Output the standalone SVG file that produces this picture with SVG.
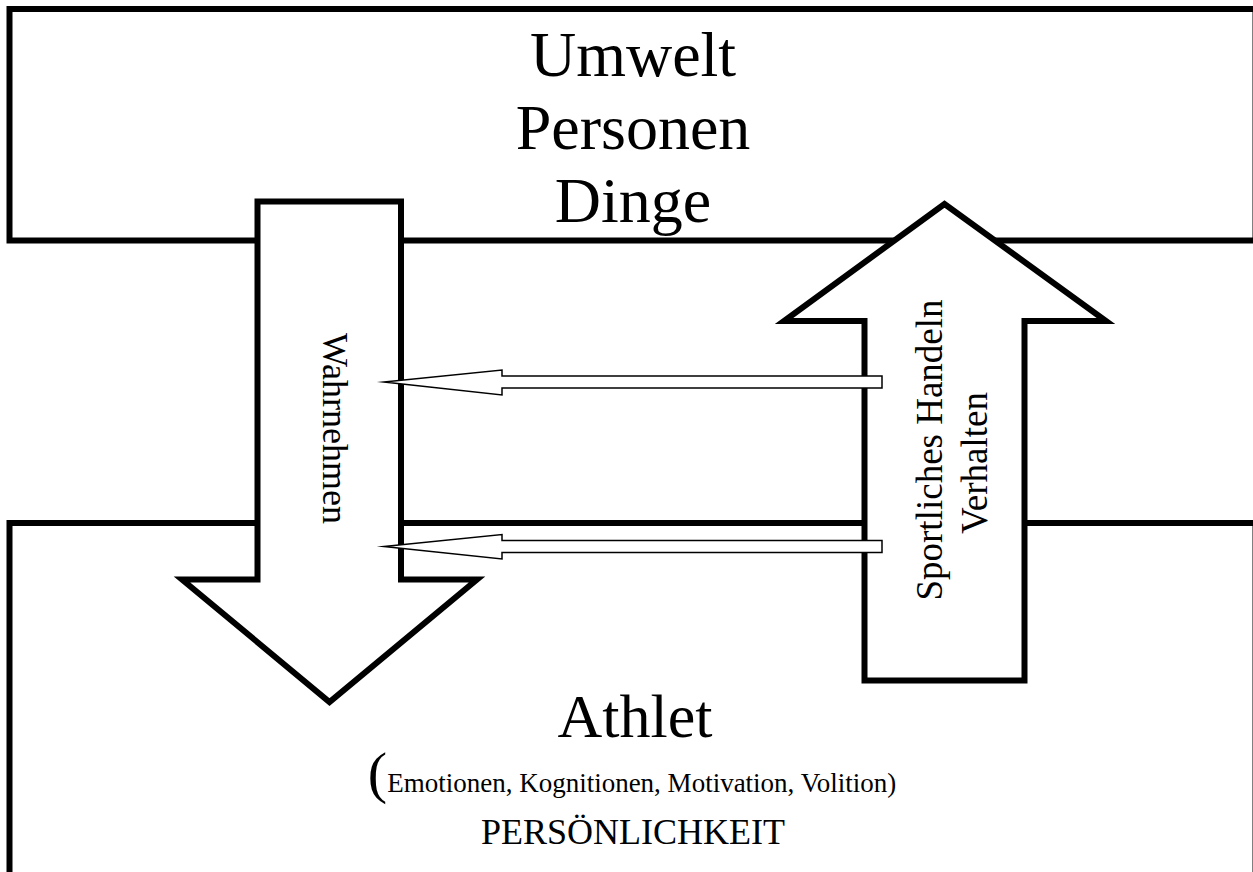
<svg xmlns="http://www.w3.org/2000/svg" width="1253" height="872" viewBox="0 0 1253 872">
<style>
.box{fill:#fff;stroke:#000;stroke-width:6;stroke-miterlimit:10}
.big{fill:#fff;stroke:#000;stroke-width:6;stroke-linejoin:miter;stroke-miterlimit:10}
.small{fill:#fff;stroke:#000;stroke-width:1.5;stroke-linejoin:miter;stroke-miterlimit:20}
text{font-family:"Liberation Serif","Times New Roman",serif;fill:#000}
</style>
<rect width="1253" height="872" fill="#fff"/>
<g id="umwelt">
<rect class="box" x="9.5" y="9" width="1246" height="231.5"/>
<text x="633" y="76" font-size="64" text-anchor="middle">Umwelt</text>
<text x="633" y="149" font-size="64" text-anchor="middle">Personen</text>
<text x="633" y="222" font-size="64" text-anchor="middle">Dinge</text>
</g>
<g id="athlet">
<rect class="box" x="9.5" y="523" width="1246" height="360"/>
<text x="635" y="737" font-size="62" text-anchor="middle">Athlet</text>
<text x="632" y="792" text-anchor="middle"><tspan font-size="58">(</tspan><tspan font-size="27">Emotionen, Kognitionen, Motivation, Volition)</tspan></text>
<text x="633" y="844" font-size="36" text-anchor="middle">PERSÖNLICHKEIT</text>
</g>
<g id="wahrnehmen">
<polygon class="big" points="257.5,201.5 401,201.5 401,579.5 477,579.5 329.5,702 182,579.5 257.5,579.5"/>
<text transform="translate(323,428.5) rotate(90)" font-size="36" text-anchor="middle">Wahrnehmen</text>
</g>
<g id="handeln">
<polygon class="big" points="864.5,680.5 864.5,321 784,321 944.5,204 1106,321 1024.5,321 1024.5,680.5"/>
<text transform="translate(942,450) rotate(-90)" font-size="37" text-anchor="middle">Sportliches Handeln</text>
<text transform="translate(987,463) rotate(-90)" font-size="37" text-anchor="middle">Verhalten</text>
</g>
<g id="connectors">
<polygon class="small" points="384,382 502,370 502,376 882,376 882,388 502,388 502,395"/>
<polygon class="small" points="384,546.5 502,534.5 502,540.5 882,540.5 882,552.5 502,552.5 502,559"/>
</g>
</svg>
